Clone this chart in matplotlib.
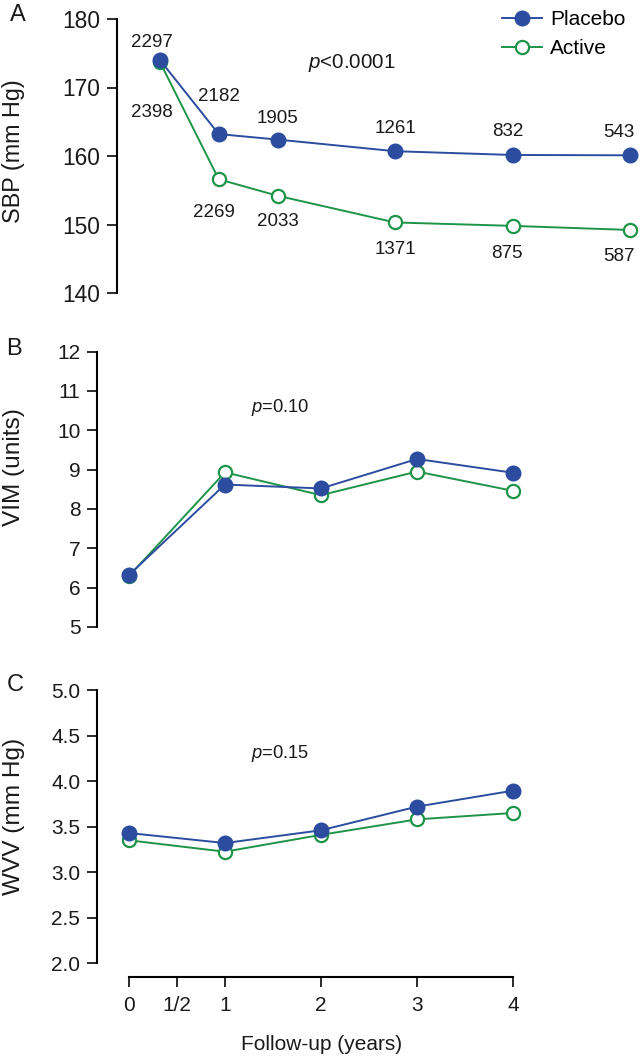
import matplotlib
matplotlib.use("Agg")
import matplotlib.pyplot as plt

plt.rcParams['font.family'] = ['Liberation Sans', 'DejaVu Sans']
plt.rcParams['mathtext.fontset'] = 'custom'
plt.rcParams['mathtext.it'] = 'Liberation Sans:italic'
plt.rcParams['mathtext.rm'] = 'Liberation Sans'

# ---------------- data ----------------
years_a = [0, 0.5, 1, 2, 3, 4]
sbp_placebo = [174.0, 163.2, 162.4, 160.7, 160.15, 160.1]
sbp_active = [173.7, 156.6, 154.2, 150.3, 149.8, 149.2]
n_placebo = ['2297', '2182', '1905', '1261', '832', '543']
n_active = ['2398', '2269', '2033', '1371', '875', '587']

years_bc = [0, 1, 2, 3, 4]
vim_placebo = [6.32, 8.62, 8.52, 9.27, 8.92]
vim_active = [6.29, 8.93, 8.35, 8.95, 8.46]
wvv_placebo = [3.43, 3.32, 3.46, 3.72, 3.895]
wvv_active = [3.35, 3.225, 3.41, 3.58, 3.65]

xticks = [0, 0.5, 1, 2, 3, 4]
xticklabels = ['0', '1/2', '1', '2', '3', '4']

p_values = ['<0.0001', '=0.10', '=0.15']
ylabels = ['SBP (mm Hg)', 'VIM (units)', 'WVV (mm Hg)']
panel_letters = ['A', 'B', 'C']

# ---------------- style ----------------
BLUE = '#2B4C9F'
GREEN = '#1E9448'
TXT = '#1a1a1a'
W, H = 642, 1062
ANN_FS = 13.5

fig = plt.figure(figsize=(W / 100, H / 100), dpi=100)


def fx(px):
    return px / W


def fy(py):
    return 1 - py / H


def make_ax(left, top, right, bottom):
    return fig.add_axes([fx(left), fy(bottom), fx(right) - fx(left), fy(top) - fy(bottom)])


def style_ax(ax, tick_fs, show_x=False):
    ax.spines['top'].set_visible(False)
    ax.spines['right'].set_visible(False)
    ax.spines['left'].set_linewidth(1.5)
    ax.tick_params(axis='y', direction='out', length=7, width=1.3, pad=5,
                   labelsize=tick_fs, colors=TXT)
    ax.patch.set_visible(False)
    if show_x:
        ax.spines['bottom'].set_linewidth(1.5)
        ax.tick_params(axis='x', direction='out', length=7.5, width=1.3, pad=6,
                       labelsize=tick_fs, colors=TXT)
    else:
        ax.spines['bottom'].set_visible(False)
        ax.set_xticks([])


def plot_pair(ax, x, yp, ya):
    ax.plot(x, ya, '-o', color=GREEN, lw=1.4, ms=9.5, mfc='white', mec=GREEN,
            mew=1.6, label='Active', clip_on=False, zorder=2)
    ax.plot(x, yp, '-o', color=BLUE, lw=1.4, ms=10.5, mfc=BLUE, mec=BLUE,
            label='Placebo', clip_on=False, zorder=3)


# ---------------- Panel A ----------------
axA = make_ax(117, 19, 638, 293)
px_per_year = 117.5
axA.set_xlim(-43 / px_per_year, 4 + 8 / px_per_year)
axA.set_ylim(140, 180)
axA.set_yticks([140, 150, 160, 170, 180])
style_ax(axA, 16.4)
axA.spines['left'].set_bounds(140, 180)
plot_pair(axA, years_a, sbp_placebo, sbp_active)

off_placebo = [(-8, 18), (0, 38), (0, 21), (0, 23), (-5, 23), (-11, 23)]
off_active = [(-8, -50), (-5, -33), (0, -26), (0, -27), (-6, -28), (-11, -27)]
for x, y, t, (dx, dy) in zip(years_a, sbp_placebo, n_placebo, off_placebo):
    axA.annotate(t, (x, y), xytext=(dx * 0.72, dy * 0.72), textcoords='offset points',
                 ha='center', va='center', fontsize=ANN_FS, color=TXT)
for x, y, t, (dx, dy) in zip(years_a, sbp_active, n_active, off_active):
    axA.annotate(t, (x, y), xytext=(dx * 0.72, dy * 0.72), textcoords='offset points',
                 ha='center', va='center', fontsize=ANN_FS, color=TXT)

handles, labels = axA.get_legend_handles_labels()
axA.legend(handles[::-1], labels[::-1], loc='upper left',
           bbox_to_anchor=(fx(502), fy(10)), bbox_transform=fig.transFigure,
           frameon=False, fontsize=15, handlelength=1.9, handletextpad=0.4,
           labelspacing=0.5, borderpad=0, borderaxespad=0)

# ---------------- Panel B ----------------
px_bc = 96.08
xlim_bc = (-32 / px_bc, 4 + 17 / px_bc)
axB = make_ax(97, 351.7, 530, 626.8)
axB.set_xlim(*xlim_bc)
axB.set_ylim(5, 12)
axB.set_yticks(range(5, 13))
style_ax(axB, 15)
axB.spines['left'].set_bounds(5, 12)
plot_pair(axB, years_bc, vim_placebo, vim_active)

# ---------------- Panel C ----------------
axC = make_ax(97, 690, 530, 977)
axC.set_xlim(*xlim_bc)
axC.set_ylim(2.0 - 13.7 / 91.1, 5.0)
yt_c = [2.0, 2.5, 3.0, 3.5, 4.0, 4.5, 5.0]
axC.set_yticks(yt_c)
axC.set_yticklabels([f'{v:.1f}' for v in yt_c])
style_ax(axC, 15, show_x=True)
axC.spines['left'].set_bounds(2.0, 5.0)
axC.spines['bottom'].set_bounds(0, 4)
axC.set_xticks(xticks)
axC.set_xticklabels(xticklabels)
plot_pair(axC, years_bc, wvv_placebo, wvv_active)

# ---------------- texts ----------------
p_pos = [(308, 63), (251, 408), (251, 753)]
p_fs = [14.8, 13.2, 13.2]
for (x, y), pv, fs in zip(p_pos, p_values, p_fs):
    fig.text(fx(x), fy(y), r'$\it{p}$' + pv, fontsize=fs, ha='left', va='center',
             color=TXT)

ylab_pos = [(14, 151), (14, 467), (14, 816)]
ylab_fs = [16.8, 17.6, 17.6]
for (x, y), lab, fs in zip(ylab_pos, ylabels, ylab_fs):
    fig.text(fx(x), fy(y), lab, rotation=90, fontsize=fs, ha='center',
             va='center', color=TXT)

letter_pos = [(18, 15), (14, 349), (15, 685)]
for (x, y), let in zip(letter_pos, panel_letters):
    fig.text(fx(x), fy(y), let, fontsize=17, ha='center', va='center', color=TXT)

fig.text(fx(322), fy(1045), 'Follow-up (years)', fontsize=15, ha='center',
         va='center', color=TXT)

fig.savefig('out.png', dpi=100)
